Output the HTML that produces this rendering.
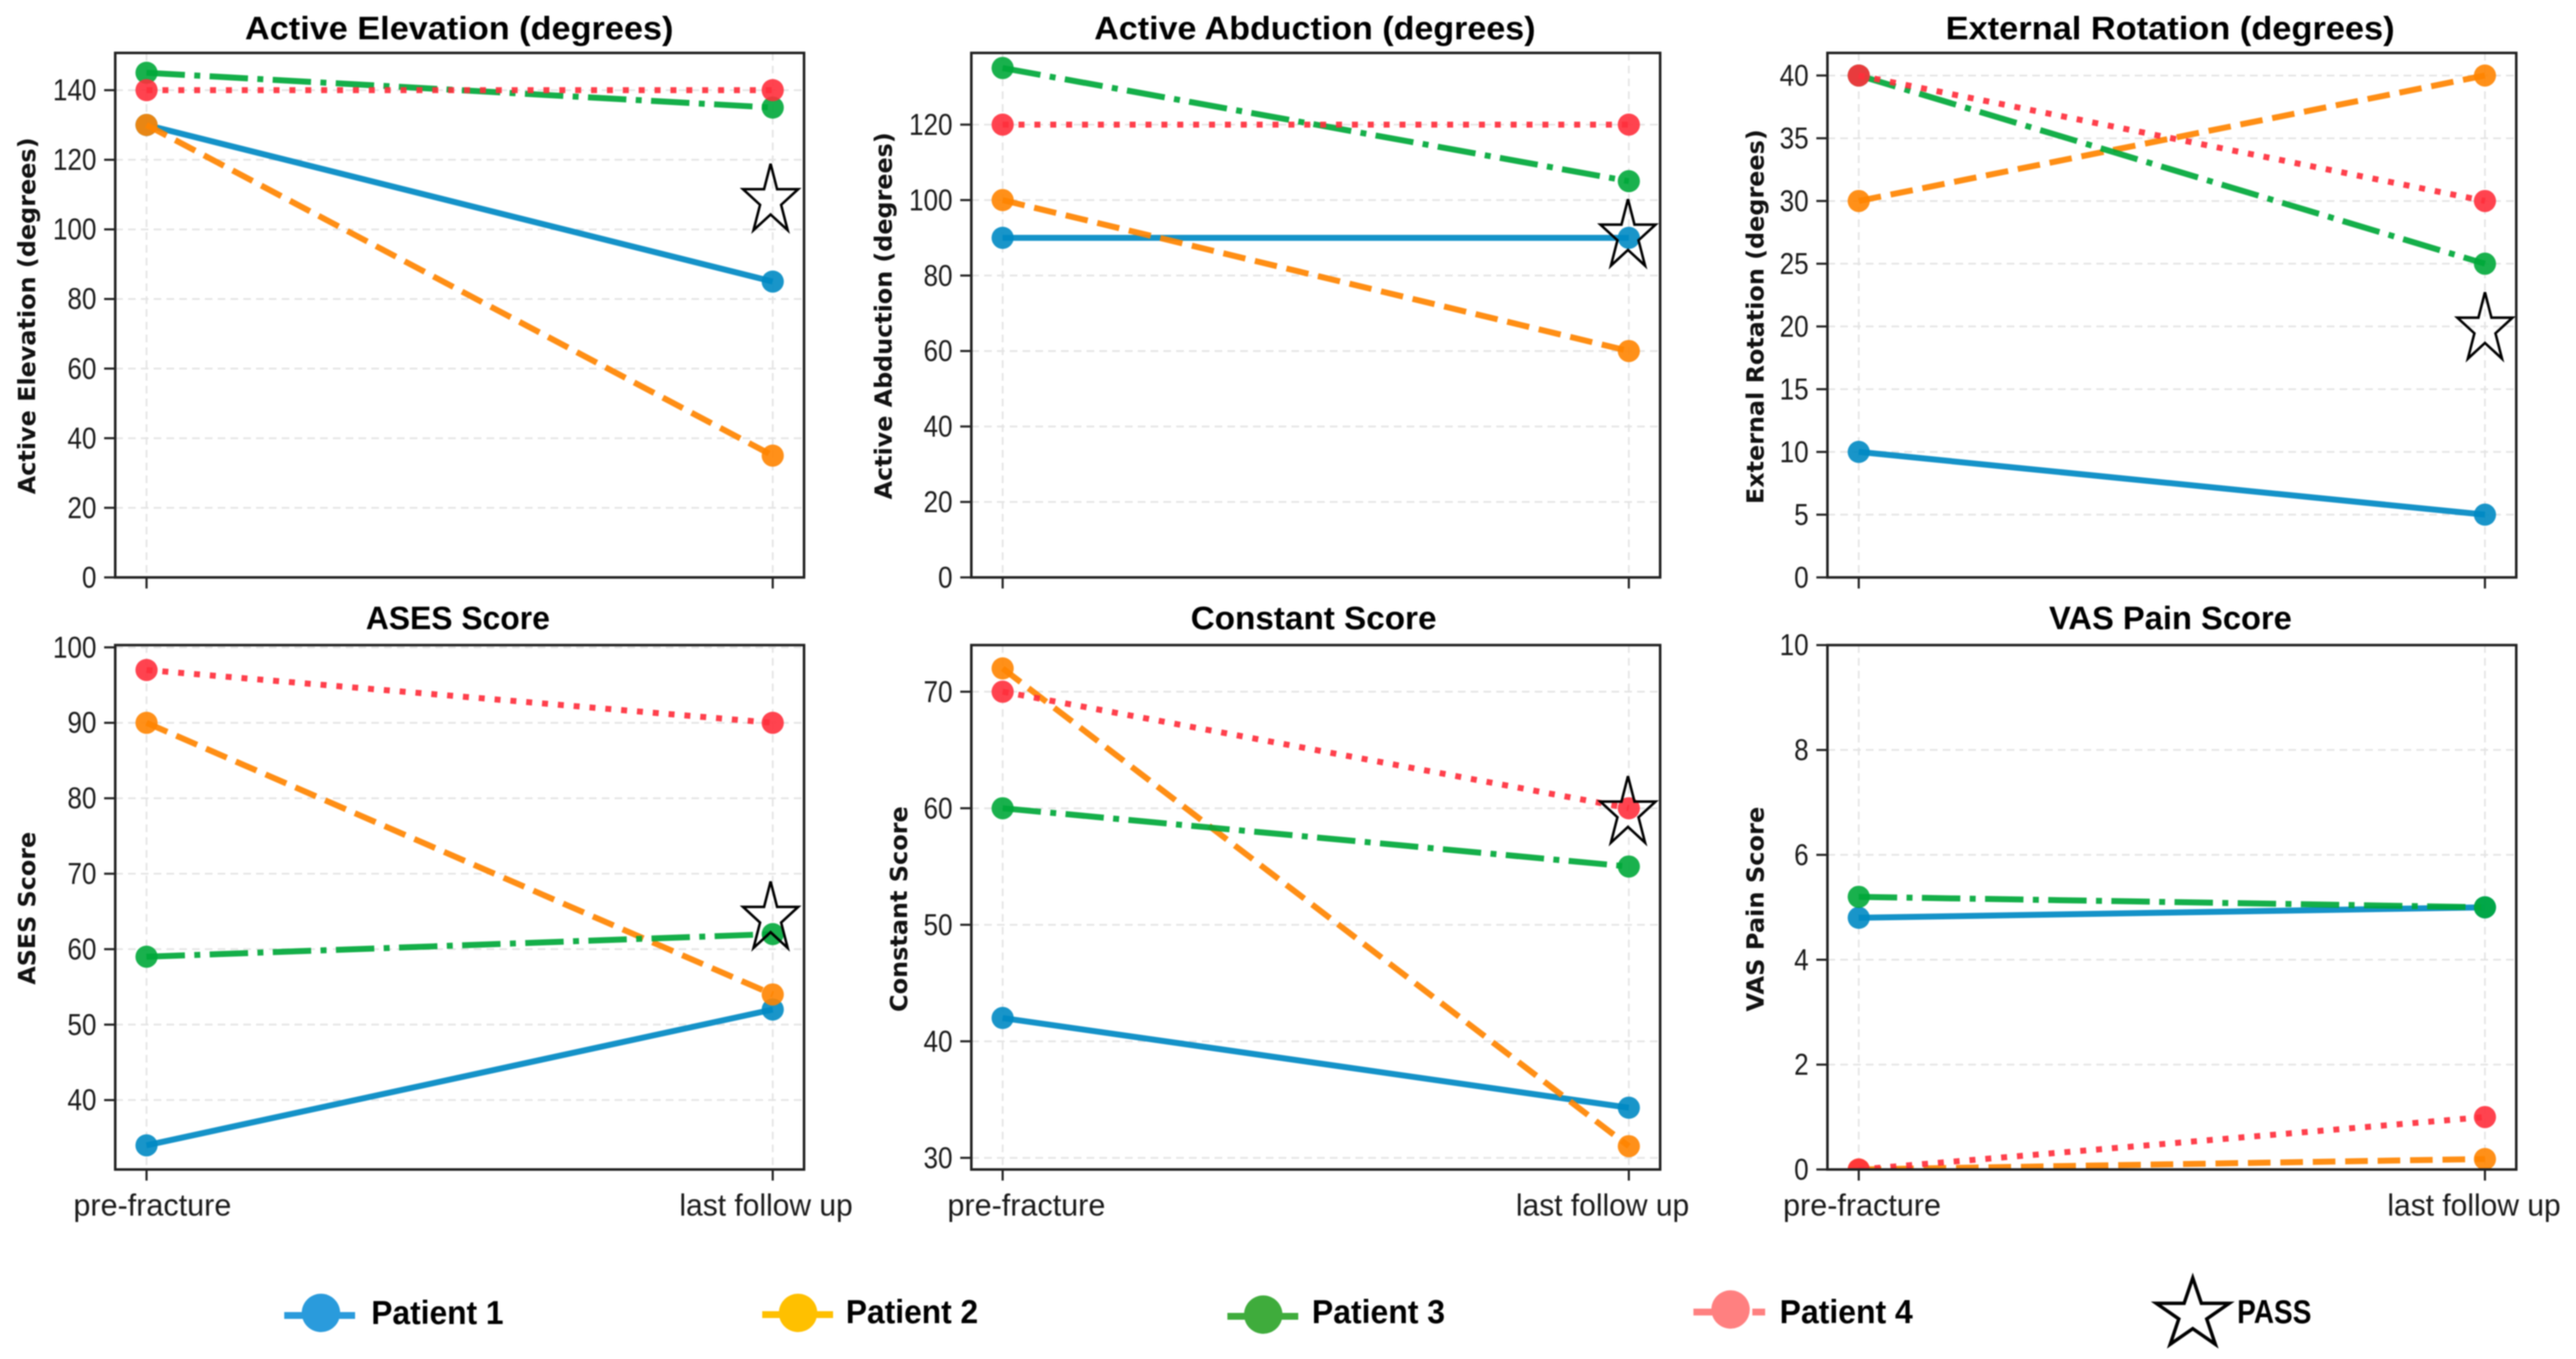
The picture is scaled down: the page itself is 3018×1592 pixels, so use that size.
<!DOCTYPE html>
<html lang="en">
<head>
<meta charset="utf-8">
<title>Patient outcome scores, pre-fracture to last follow up</title>
<style>
html,body{margin:0;padding:0;background:#fff;width:3018px;height:1592px;overflow:hidden}
svg{display:block;filter:blur(0.9px)}
text{font-family:"Liberation Sans",sans-serif;fill:#1a1a1a}
.title{font-weight:bold;font-size:38px;fill:#000}
.ylab{font-family:"DejaVu Sans",sans-serif;font-weight:bold;font-size:28px;fill:#111}
.tick{font-size:35px}
.xtick{font-size:36px}
.leg{font-weight:bold;font-size:39px;fill:#000}
</style>
</head>
<body>
<svg id="chart" xmlns="http://www.w3.org/2000/svg" width="3018" height="1592" viewBox="0 0 3018 1592">
  <rect x="0" y="0" width="3018" height="1592" fill="#fff"/>
  <g id="panels"></g>
  <g id="legend">
    <g>
      <rect x="333" y="1537" width="83" height="8" fill="#2a9bdc"/>
      <circle cx="376" cy="1538" r="22.5" fill="#2a9bdc"/>
      <text class="leg" x="435" y="1551" textLength="155" lengthAdjust="spacingAndGlyphs">Patient 1</text>
    </g>
    <g>
      <rect x="893" y="1536" width="83" height="8" fill="#ffc000"/>
      <circle cx="935" cy="1538" r="22.5" fill="#ffc000"/>
      <text class="leg" x="991" y="1550" textLength="155" lengthAdjust="spacingAndGlyphs">Patient 2</text>
    </g>
    <g>
      <rect x="1438" y="1538" width="83" height="8" fill="#3fac3c"/>
      <circle cx="1480" cy="1540" r="22.5" fill="#3fac3c"/>
      <text class="leg" x="1537" y="1550" textLength="156" lengthAdjust="spacingAndGlyphs">Patient 3</text>
    </g>
    <g>
      <rect x="1984" y="1533" width="30" height="8" fill="#ff8080"/>
      <rect x="2053" y="1533" width="15" height="8" fill="#ff8080"/>
      <circle cx="2027.5" cy="1534" r="22.5" fill="#ff8080"/>
      <text class="leg" x="2085" y="1550" textLength="156" lengthAdjust="spacingAndGlyphs">Patient 4</text>
    </g>
    <g>
      <polygon id="legend-star" fill="none" stroke="#000" stroke-width="4"/>
      <text class="leg" x="2621" y="1550" textLength="87" lengthAdjust="spacingAndGlyphs">PASS</text>
    </g>
  </g>
</svg>
<script>
// ---- chart data ----
const categories = ['pre-fracture', 'last follow up'];
const panelTitles = ['Active Elevation (degrees)', 'Active Abduction (degrees)', 'External Rotation (degrees)', 'ASES Score', 'Constant Score', 'VAS Pain Score'];
const yAxisTitles = ['Active Elevation (degrees)', 'Active Abduction (degrees)', 'External Rotation (degrees)', 'ASES Score', 'Constant Score', 'VAS Pain Score'];
const patient1 = [[130, 85], [90, 90], [10, 5], [34, 52], [42, 34.3], [4.8, 5]];
const patient2 = [[130, 35], [100, 60], [30, 40], [90, 54], [72, 31], [0, 0.2]];
const patient3 = [[145, 135], [135, 105], [40, 25], [59, 62], [60, 55], [5.2, 5]];
const patient4 = [[140, 140], [120, 120], [40, 30], [97, 90], [70, 60], [0, 1]];
const passValues = [108.3, 90.5, 19.8, 64.1, 59.6, null];
const yMin = [0, 0, 0, 30.8, 29, 0];
const yMax = [150.7, 139, 41.8, 100.3, 74, 10];
const yTicks = [
  [0, 20, 40, 60, 80, 100, 120, 140],
  [0, 20, 40, 60, 80, 100, 120],
  [0, 5, 10, 15, 20, 25, 30, 35, 40],
  [40, 50, 60, 70, 80, 90, 100],
  [30, 40, 50, 60, 70],
  [0, 2, 4, 6, 8, 10]
];
const seriesNames = ['patient-1', 'patient-2', 'patient-3', 'patient-4'];
const seriesValues = [patient1, patient2, patient3, patient4];

// ---- layout and styling (not data) ----
const SVGNS = 'http://www.w3.org/2000/svg';
const columnLeft = [135, 1138, 2141];
const rowTop = [62, 755.7];
const rowBottom = [676.4, 1370];
const AXES_WIDTH = 807;
const LINE_WIDTH = 7;
const MARKER_RADIUS = 13;
const seriesColor = ['#0089c3', '#ff8400', '#00a83a', '#ff2f3c'];
const seriesDash = ['none', '26.5 11.5', '45 11 7 11', '7 11.6'];
const titleBox = [[287, 502, 46], [1282, 517, 46], [2279.5, 526, 46], [428.6, 215.6, 737], [1395, 288, 737], [2400.6, 284.5, 737]];
const yTitleBox = [[41, 370, 418], [1044.6, 370, 430], [2066, 371, 439], [41, 1064, 179], [1062.5, 1065, 241], [2066, 1065, 240]];
const xLabelStart = [[86, 796], [1110, 1776], [2089, 2797]];
const xLabelWidth = [185, 203];
const starXShift = [-2.5, -1, 0, -2.5, -1, 0];

function make(tag, attrs, parent) {
  const el = document.createElementNS(SVGNS, tag);
  for (const key in attrs) el.setAttribute(key, attrs[key]);
  parent.appendChild(el);
  return el;
}

function starPoints(cx, cy, rx, ry) {
  const pts = [];
  for (let k = 0; k < 10; k++) {
    const frac = k % 2 === 0 ? 1 : 0.381966;
    const ang = -Math.PI / 2 + k * Math.PI / 5;
    pts.push((cx + rx * frac * Math.cos(ang)).toFixed(2) + ',' + (cy + ry * frac * Math.sin(ang)).toFixed(2));
  }
  return pts.join(' ');
}

function xScale(p, i) {
  const left = columnLeft[p % 3];
  const n = categories.length - 1;
  return left + AXES_WIDTH * (i + 0.05 * n) / (n * 1.1);
}

function yScale(p, v) {
  const row = p < 3 ? 0 : 1;
  const top = rowTop[row];
  const bottom = rowBottom[row];
  return bottom - (v - yMin[p]) / (yMax[p] - yMin[p]) * (bottom - top);
}

const root = document.getElementById('panels');

panelTitles.forEach(function (title, p) {
  const row = p < 3 ? 0 : 1;
  const left = columnLeft[p % 3];
  const right = left + AXES_WIDTH;
  const top = rowTop[row];
  const bottom = rowBottom[row];

  const panel = make('g', {}, root);
  
  

  const clip = make('clipPath', { id: 'clip-' + p }, panel);
  make('rect', { x: left, y: top, width: AXES_WIDTH, height: bottom - top }, clip);

  // gridlines
  yTicks[p].forEach(function (tick) {
    const grid = make('line', { x1: left, x2: right, y1: yScale(p, tick), y2: yScale(p, tick), stroke: '#e4e4e4', 'stroke-width': 2, 'stroke-dasharray': '9 6' }, panel);
    
    
  });
  categories.forEach(function (cat, i) {
    const grid = make('line', { x1: xScale(p, i), x2: xScale(p, i), y1: top, y2: bottom, stroke: '#e4e4e4', 'stroke-width': 2, 'stroke-dasharray': '9 6' }, panel);
    
    
  });

  // series
  const plot = make('g', { 'clip-path': 'url(#clip-' + p + ')' }, panel);
  
  
  seriesValues.forEach(function (series, s) {
    const vals = series[p];
    const d = vals.map(function (v, i) { return (i ? 'L' : 'M') + xScale(p, i) + ' ' + yScale(p, v); }).join(' ');
    const line = make('path', { d: d, fill: 'none', stroke: seriesColor[s], 'stroke-width': LINE_WIDTH, 'stroke-opacity': 0.92, 'stroke-dasharray': seriesDash[s] }, plot);
    
    
    vals.forEach(function (v, i) {
      const dot = make('circle', { cx: xScale(p, i), cy: yScale(p, v), r: MARKER_RADIUS, fill: seriesColor[s], 'fill-opacity': 0.9 }, plot);
      
      
    });
  });

  // PASS star
  if (passValues[p] !== null) {
    const star = make('polygon', { points: starPoints(xScale(p, 1) + starXShift[p], yScale(p, passValues[p]), 34, 43), fill: 'none', stroke: '#000', 'stroke-width': 3 }, panel);
    
    
  }

  // frame
  const frame = make('rect', { x: left, y: top, width: AXES_WIDTH, height: bottom - top, fill: 'none', stroke: '#222', 'stroke-width': 3 }, panel);
  
  

  // y ticks
  yTicks[p].forEach(function (tick) {
    const mark = make('line', { x1: left - 13, x2: left, y1: yScale(p, tick), y2: yScale(p, tick), stroke: '#222', 'stroke-width': 2.5 }, panel);
    
    
    const label = make('text', { class: 'tick', x: left - 22, y: yScale(p, tick) + 12, 'text-anchor': 'end', textLength: String(tick).length * 17, lengthAdjust: 'spacingAndGlyphs' }, panel);
    label.textContent = tick;
    
    
  });

  // x ticks
  categories.forEach(function (cat, i) {
    const mark = make('line', { x1: xScale(p, i), x2: xScale(p, i), y1: bottom, y2: bottom + 13, stroke: '#222', 'stroke-width': 2.5 }, panel);
    
    
    if (row === 1) {
      const label = make('text', { class: 'xtick', x: xLabelStart[p % 3][i], y: 1424, textLength: xLabelWidth[i], lengthAdjust: 'spacingAndGlyphs' }, panel);
      label.textContent = cat;
      
      
    }
  });

  // titles
  const tb = titleBox[p];
  const heading = make('text', { class: 'title', x: tb[0], y: tb[2], textLength: tb[1], lengthAdjust: 'spacingAndGlyphs' }, panel);
  heading.textContent = title;
  
  

  const yb = yTitleBox[p];
  const yTitle = make('text', { class: 'ylab', x: 0, y: 0, 'text-anchor': 'middle', transform: 'translate(' + yb[0] + ' ' + yb[1] + ') rotate(-90)', textLength: yb[2], lengthAdjust: 'spacingAndGlyphs' }, panel);
  yTitle.textContent = yAxisTitles[p];
  
  
});

document.getElementById('legend-star').setAttribute('points', starPoints(2569, 1540, 45, 43));
</script>
</body>
</html>
